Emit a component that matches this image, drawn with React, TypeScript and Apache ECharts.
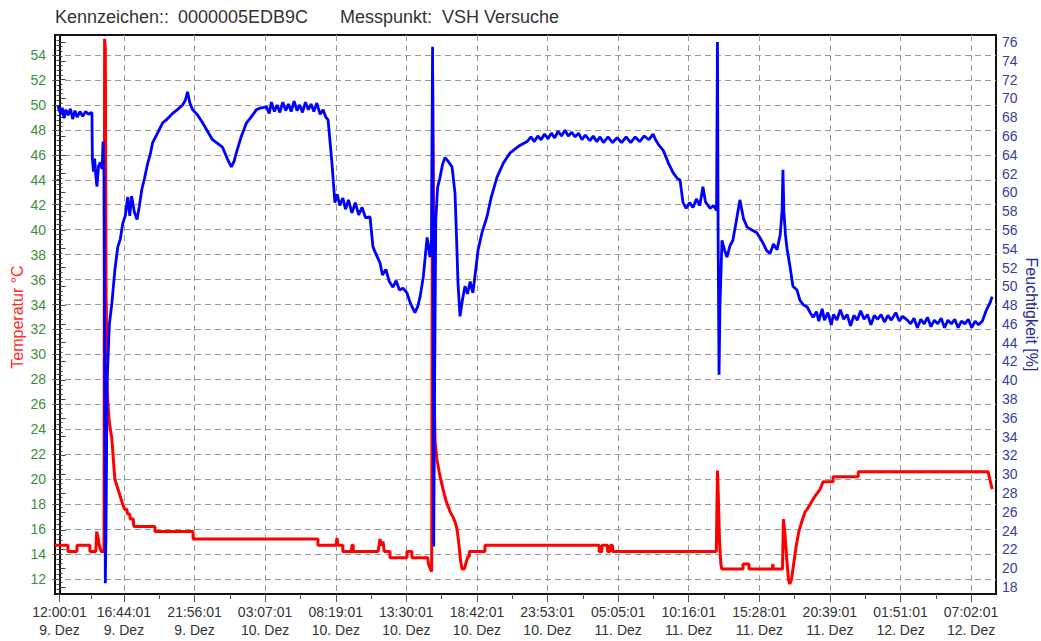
import React, { useEffect, useRef } from 'react';
import * as echarts from 'echarts';

// ---- text ----
const titleParts = ['Kennzeichen::', '0000005EDB9C', 'Messpunkt:', 'VSH Versuche'];
const leftAxisName = 'Temperatur °C';
const rightAxisName = 'Feuchtigkeit [%]';

// ---- x tick labels (time + day) ----
const tickTimes = ['12:00:01', '16:44:01', '21:56:01', '03:07:01', '08:19:01', '13:30:01', '18:42:01', '23:53:01', '05:05:01', '10:16:01', '15:28:01', '20:39:01', '01:51:01', '07:02:01'];
const tickDays = ['9. Dez', '9. Dez', '9. Dez', '10. Dez', '10. Dez', '10. Dez', '10. Dez', '10. Dez', '11. Dez', '11. Dez', '11. Dez', '11. Dez', '12. Dez', '12. Dez'];

// minutes since 9. Dez 12:00:01
const viewStart = -20;
const viewEnd = 4132;

// ---- temperature [minute, °C] ----
const temperature: [number, number][] = [
  [-20, 14.7], [37, 14.7], [37, 14.2], [77, 14.2], [77, 14.7], [134, 14.7], [134, 14.2], [160, 14.2], [164, 15.8], [170, 15.3], [175, 14.7], [184, 14.2], [196, 14.2],
  [199, 55.3], [202, 54.5], [205, 36], [210, 27], [220, 24.5], [231, 23.2], [244, 20.0], [258, 19.2], [275, 18.2], [286, 17.6], [297, 17.6], [300, 17.2], [310, 17.2], [312, 16.8], [325, 16.8], [328, 16.2],
  [421, 16.2], [421, 15.8], [589, 15.8], [589, 15.2], [1140, 15.2], [1140, 14.7], [1220, 14.7], [1224, 15.3], [1228, 14.7], [1250, 14.7], [1250, 14.2], [1288, 14.2], [1290, 14.7], [1296, 14.7], [1296, 14.2],
  [1405, 14.2], [1410, 14.7], [1414, 15.2], [1420, 14.7], [1427, 15.0], [1433, 14.2], [1458, 14.2], [1458, 13.7], [1533, 13.7], [1533, 14.2], [1555, 14.2], [1555, 13.7], [1625, 13.7], [1628, 13.2], [1636, 12.8], [1642, 12.6],
  [1646, 52.5], [1649, 45], [1652, 28], [1657, 23], [1665, 21.6], [1678, 20.3], [1692, 19.2], [1705, 18.3], [1723, 17.4], [1735, 17.0], [1745, 16.6], [1754, 16.0], [1762, 14.8], [1770, 13.4], [1776, 12.8], [1786, 12.8], [1795, 13.4], [1802, 13.8], [1808, 13.8], [1808, 14.2],
  [1877, 14.2], [1877, 14.7], [2381, 14.7], [2381, 14.2], [2393, 14.2], [2393, 14.7], [2418, 14.7], [2418, 14.2], [2430, 14.2], [2430, 14.7], [2440, 14.7], [2440, 14.2], [2898, 14.2],
  [2903, 20.7], [2907, 18.5], [2912, 15.0], [2918, 13.2], [2922, 12.8], [3016, 12.8], [3016, 13.2], [3042, 13.2], [3042, 12.8], [3145, 12.8], [3147, 13.2], [3150, 12.8], [3190, 12.8],
  [3194, 16.8], [3200, 15.8], [3208, 13.8], [3216, 12.0], [3222, 11.6], [3230, 12.0], [3240, 13.3], [3250, 14.6], [3262, 15.8], [3275, 16.6], [3290, 17.4], [3299, 17.6], [3312, 18.0], [3325, 18.4], [3340, 18.8], [3356, 19.2],
  [3369, 19.8], [3413, 19.8], [3413, 20.2], [3524, 20.2], [3524, 20.6], [4097, 20.6], [4115, 19.2],
];

// ---- humidity [minute, %] ----
const humidity: [number, number][] = [
  [-7, 69.2], [5, 68.3], [12, 69.0], [20, 67.9], [28, 68.8], [38, 68.2], [48, 68.9], [58, 67.8], [68, 68.7], [78, 68.0], [90, 68.6], [102, 68.1], [115, 68.6], [128, 68.3], [140, 68.5], [143, 68.4],
  [145, 63.5], [150, 62.2], [155, 63.6], [160, 61.8], [165, 60.6], [172, 62.8], [180, 63.2], [188, 62.5], [192, 65.4], [196, 62.0], [199, 45], [202, 18.4], [205, 24], [210, 40], [220, 46],
  [231, 48.2], [244, 51.7], [257, 54.2], [268, 55], [279, 56.7], [290, 57.5], [301, 59.5], [310, 57.5], [318, 59.6], [330, 57.9], [342, 57.1], [352, 58.5], [363, 60.3], [375, 61.5], [389, 63.1], [400, 64], [411, 65.3],
  [430, 66.2], [455, 67.4], [475, 67.8], [499, 68.4], [520, 68.8], [543, 69.3], [555, 69.8], [565, 70.7], [575, 69.5], [587, 68.8], [610, 68.2], [631, 67.4], [653, 66.5], [675, 65.6], [697, 65.2], [719, 64.8],
  [740, 63.6], [758, 62.7], [770, 63.3], [780, 64.2], [800, 65.8], [825, 67.4], [845, 68.0], [869, 68.8], [890, 69.0], [913, 69.1], [925, 68.4], [935, 69.6], [948, 68.6], [960, 69.3], [972, 68.5], [985, 69.6],
  [998, 68.7], [1010, 69.4], [1022, 68.6], [1035, 69.7], [1048, 68.7], [1060, 69.3], [1072, 68.5], [1085, 69.6], [1098, 68.8], [1110, 69.4], [1122, 68.6], [1135, 69.5], [1150, 68.3], [1163, 68.8], [1175, 68.0],
  [1185, 67.7], [1195, 65.0], [1202, 63.1], [1210, 60.5], [1215, 58.9], [1225, 59.8], [1237, 58.6], [1250, 59.4], [1262, 58.2],
  [1275, 59.2], [1290, 57.8], [1305, 58.9], [1320, 57.6], [1335, 58.4], [1350, 57.3], [1370, 57.4], [1383, 54.2], [1395, 53.5], [1414, 52.5], [1425, 51.2], [1440, 51.8], [1455, 50.5], [1471, 49.9], [1485, 50.6],
  [1500, 49.6], [1515, 49.8], [1533, 49.3], [1548, 48.2], [1560, 47.6], [1568, 47.2], [1580, 47.8], [1591, 48.9], [1605, 51], [1615, 53.5], [1622, 55.2], [1630, 53.8], [1635, 53.1], [1641, 55],
  [1646, 75.5], [1648, 60], [1651, 22.3], [1655, 40], [1660, 57], [1668, 60.5], [1679, 61.6], [1690, 63], [1701, 63.7], [1715, 63.3], [1732, 62.7], [1745, 59.9], [1752, 55], [1758, 50.4], [1767, 46.8],
  [1778, 48.6], [1789, 50], [1800, 49.2], [1812, 50.5], [1824, 49.3], [1835, 51.5], [1847, 53.9], [1865, 55.8], [1886, 57.4], [1905, 59.5], [1930, 61.6], [1958, 63.1], [1988, 64.2], [2025, 64.9], [2063, 65.4],
  [2080, 65.9], [2095, 65.4], [2110, 66.0], [2125, 65.6], [2140, 66.2], [2155, 65.7], [2170, 66.3], [2185, 65.8], [2200, 66.5], [2215, 66.0], [2230, 66.6], [2245, 66.0], [2260, 66.4], [2275, 65.9], [2290, 66.3],
  [2305, 65.6], [2320, 66.1], [2340, 65.5], [2355, 66.0], [2370, 65.4], [2385, 65.9], [2400, 65.3], [2420, 65.9], [2440, 65.3], [2460, 65.8], [2480, 65.3], [2500, 65.9], [2520, 65.3], [2540, 65.9], [2560, 65.4],
  [2580, 66.0], [2600, 65.6], [2619, 66.2], [2630, 65.6], [2645, 65.0], [2663, 64.5], [2685, 63.2],
  [2707, 62.1], [2725, 61.5], [2738, 61.3], [2745, 60.0], [2751, 58.9], [2765, 58.3], [2780, 58.9], [2795, 58.4], [2810, 59.3], [2825, 58.6], [2839, 60.6], [2850, 59.0], [2870, 58.3], [2885, 58.6], [2899, 58.1],
  [2903, 76.0], [2906, 55], [2910, 40.6], [2914, 48], [2923, 54.9], [2935, 53.8], [2945, 53.1], [2958, 54.3], [2971, 54.9], [2985, 56.8], [3002, 59.2], [3018, 57.2], [3034, 56.3], [3055, 56.0], [3077, 55.7],
  [3090, 55.2], [3104, 54.6], [3120, 53.8], [3135, 53.5], [3150, 54.5], [3166, 53.9], [3180, 55.5], [3188, 58], [3192, 62.4], [3196, 58], [3203, 55.5], [3210, 54], [3223, 52.1], [3236, 50], [3254, 49.6],
  [3267, 48.5], [3283, 48.0], [3299, 47.8], [3312, 47.2], [3325, 46.7], [3340, 47.3], [3350, 46.3], [3365, 47.6], [3375, 46.4], [3390, 47.2], [3405, 45.9], [3415, 47.0], [3430, 46.4], [3445, 47.5], [3460, 46.5],
  [3475, 47.0], [3490, 45.8], [3505, 46.9], [3520, 46.4], [3535, 47.4], [3550, 46.5], [3565, 47.0], [3580, 45.9], [3595, 46.9], [3610, 46.5], [3625, 47.0], [3640, 46.2], [3655, 46.9], [3670, 46.4], [3690, 47.2],
  [3705, 46.3], [3720, 46.8], [3741, 46.4], [3755, 46.0], [3770, 46.6], [3785, 45.6], [3800, 46.5], [3815, 46.0], [3830, 46.7], [3845, 45.7], [3860, 46.4], [3875, 46.0], [3890, 46.6], [3905, 45.6], [3920, 46.4],
  [3935, 46.0], [3950, 46.5], [3965, 45.6], [3980, 46.3], [3995, 46.0], [4010, 46.5], [4025, 45.6], [4040, 46.3], [4055, 45.9], [4072, 46.3], [4090, 47.5], [4105, 48.2], [4115, 48.9],
];

function toMinutes(time: string, day: string): number {
  const [h, m, s] = time.split(':').map(Number);
  const d = parseInt(day, 10);
  return (d - 9) * 1440 + h * 60 + m + s / 60 - (12 * 60 + 1 / 60);
}

const FONT = '"Liberation Sans", Arial, sans-serif';

export default function App() {
  const ref = useRef<HTMLDivElement>(null);
  useEffect(() => {
    const chart = echarts.init(ref.current!, null, { renderer: 'svg' });
    const tickMinutes = tickTimes.map((t, i) => toMinutes(t, tickDays[i]));
    const midMinutes = tickMinutes.slice(1).map((m, i) => (m + tickMinutes[i]) / 2);
    const labelFor = (v: number) => {
      const i = tickMinutes.findIndex((m) => Math.abs(m - v) < 0.01);
      return i >= 0 ? `${tickTimes[i]}\n${tickDays[i]}` : '';
    };
    const titleX = [55, 178, 340, 442];
    const gridBase = { left: 55, right: 45, outerBoundsMode: 'none', containLabel: false };
    const option: any = {
      animation: false,
      backgroundColor: '#fff',
      textStyle: { fontFamily: FONT },
      graphic: titleParts.map((t, i) => ({
        type: 'text',
        x: titleX[i],
        y: 17,
        style: { text: t, fill: '#333', font: `18px ${FONT}`, align: 'left', verticalAlign: 'middle' },
      })),
      grid: [
        { ...gridBase, top: 35, bottom: 47, show: true, borderColor: '#111', borderWidth: 2, backgroundColor: '#fff' },
        { ...gridBase, top: 55, bottom: 62 },
        { ...gridBase, top: 42, bottom: 54 },
      ],
      xAxis: [
        {
          gridIndex: 0, type: 'value', min: viewStart, max: viewEnd, position: 'bottom',
          axisLine: { show: true, lineStyle: { color: '#111', width: 2 } },
          axisTick: { show: true, customValues: tickMinutes, length: 8, lineStyle: { color: '#555' } },
          axisLabel: { customValues: tickMinutes, formatter: labelFor, color: '#333', fontSize: 14, lineHeight: 18, margin: 9, fontFamily: FONT },
          splitLine: { show: true, lineStyle: { type: [6, 4], color: '#9a9a9a', width: 1 } },
        },
        {
          gridIndex: 0, type: 'value', min: viewStart, max: viewEnd, position: 'bottom',
          axisLine: { show: false },
          axisTick: { show: true, customValues: midMinutes, length: 5, lineStyle: { color: '#555' } },
          axisLabel: { show: false },
          splitLine: { show: false },
        },
        { gridIndex: 1, type: 'value', min: viewStart, max: viewEnd, show: false },
        { gridIndex: 2, type: 'value', min: viewStart, max: viewEnd, show: false },
      ],
      yAxis: [
        {
          gridIndex: 0, type: 'value', min: 10.8, max: 55.6, interval: 0.4, position: 'left',
          axisLine: { show: true, lineStyle: { color: '#111', width: 2 } },
          axisTick: { show: true, length: 3, lineStyle: { color: '#444' } },
          axisLabel: { show: false },
          splitLine: { show: false },
        },
        {
          gridIndex: 1, type: 'value', min: 12, max: 54, interval: 2, position: 'left',
          axisLine: { show: false },
          axisTick: { show: true, length: 7, lineStyle: { color: '#444' } },
          axisLabel: { color: '#3d8f3d', fontSize: 14, margin: 9, fontFamily: FONT },
          splitLine: { show: true, lineStyle: { type: [6, 4], color: '#9a9a9a', width: 1 } },
          name: leftAxisName, nameLocation: 'middle', nameGap: 30, nameRotate: 90, nameMoveOverlap: false,
          nameTextStyle: { color: '#ff2a2a', fontSize: 16, fontFamily: FONT },
        },
        {
          gridIndex: 2, type: 'value', min: 18, max: 76, interval: 2, position: 'right',
          axisLine: { show: false },
          axisTick: { show: true, length: 6, lineStyle: { color: '#444' } },
          minorTick: { show: true, splitNumber: 4, length: 3, lineStyle: { color: '#444' } },
          axisLabel: { color: '#3c3c9c', fontSize: 14, margin: 6, fontFamily: FONT },
          splitLine: { show: false },
          name: rightAxisName, nameLocation: 'middle', nameGap: 27, nameRotate: -90, nameMoveOverlap: false,
          nameTextStyle: { color: '#2a2a90', fontSize: 16, fontFamily: FONT },
        },
      ],
      series: [
        {
          type: 'line', name: 'Temperatur', xAxisIndex: 2, yAxisIndex: 1, data: temperature,
          showSymbol: false, symbol: 'none', clip: false, color: '#ff0000',
          lineStyle: { color: '#ff0000', width: 3 }, z: 3,
        },
        {
          type: 'line', name: 'Feuchtigkeit', xAxisIndex: 3, yAxisIndex: 2, data: humidity,
          showSymbol: false, symbol: 'none', clip: false, color: '#0000ff',
          lineStyle: { color: '#0000ff', width: 2.8 }, z: 4,
        },
      ],
    };
    chart.setOption(option);
    return () => chart.dispose();
  }, []);
  return <div ref={ref} style={{ position: 'fixed', left: 0, top: 0, width: 1041, height: 641, background: '#fff' }} />;
}
